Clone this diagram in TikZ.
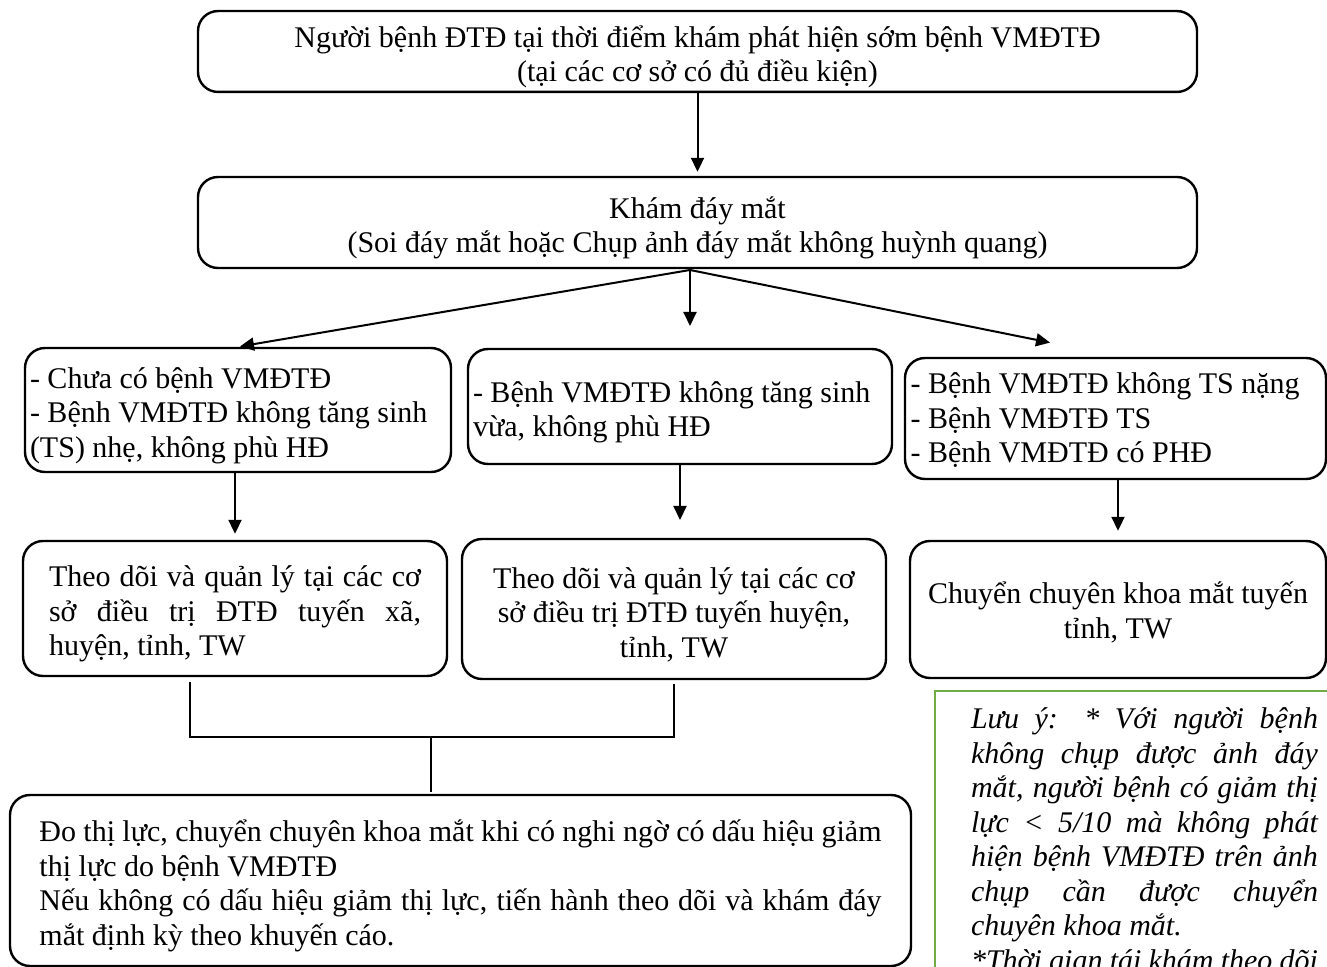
\documentclass[tikz,border=0pt]{standalone}
\usepackage{fontspec}
\setmainfont{Liberation Serif}
\usepackage{tikz}
\usetikzlibrary{positioning, arrows.meta, calc}
\definecolor{notegreen}{RGB}{112,173,71}

% one line spread to a full width
\newcommand{\fillline}[2]{\makebox[#1][s]{\spaceskip=0pt\xspaceskip=0pt\relax#2}}

\tikzset{
	every node/.append style={execute at begin node={\spaceskip=\fontdimen2\font\xspaceskip=\fontdimen2\font\relax}},
	box/.style={draw, line width=1.2pt, rounded corners=10pt, inner sep=2pt, text height=16pt,
		font=\fontsize{15pt}{17.25pt}\selectfont},
	note/.style={draw=notegreen, line width=1pt, inner xsep=18pt, inner ysep=8.5pt,
		text width=173.5pt, align=left, font=\fontsize{15pt}{17.25pt}\selectfont\itshape}
}

\begin{document}
\begin{tikzpicture}[x=0.5pt, y=-0.5pt, >={Triangle[length=7pt,width=6.5pt]}, line width=1pt, shorten >=1pt]
	\useasboundingbox (0,0) rectangle (1327,967);
	\clip (0,0) rectangle (1327,967);
	
	%Boxes
	\node[box, minimum width=499.5pt, minimum height=38.5pt, text width=490pt, align=center] (patient) at (697.5,51.5) {Người bệnh ĐTĐ tại thời điểm khám phát hiện sớm bệnh VMĐTĐ\\(tại các cơ sở có đủ điều kiện)};
	\node[box, minimum width=499.5pt, minimum height=45.5pt, text width=490pt, align=center] (fundus) at (697.5,222.5) {Khám đáy mắt\\(Soi đáy mắt hoặc Chụp ảnh đáy mắt không huỳnh quang)};
	
	\node[box, minimum width=213pt, minimum height=62pt, text width=208pt, align=left] (mild) at (238,410) {- Chưa có bệnh VMĐTĐ\\- Bệnh VMĐTĐ không tăng sinh\\(TS) nhẹ, không phù HĐ};
	\node[box, minimum width=212pt, minimum height=57.5pt, text width=207pt, align=left] (moderate) at (680,406.5) {- Bệnh VMĐTĐ không tăng sinh\\vừa, không phù HĐ};
	\node[box, minimum width=210.5pt, minimum height=60.5pt, text width=205pt, text height=12pt, align=left] (severe) at (1115.5,418.5) {- Bệnh VMĐTĐ không TS nặng\\- Bệnh VMĐTĐ TS\\- Bệnh VMĐTĐ có PHĐ};
	
	\node[box, minimum width=212pt, minimum height=67.5pt, text width=186pt, align=left] (follow_low) at (235,608.5) {\fillline{186pt}{Theo dõi và quản lý tại các cơ}\\\fillline{186pt}{sở điều trị ĐTĐ tuyến xã,}\\huyện, tỉnh, TW};
	\node[box, minimum width=212pt, minimum height=70pt, text width=200pt, align=center] (follow_mid) at (674,609) {Theo dõi và quản lý tại các cơ\\sở điều trị ĐTĐ tuyến huyện,\\tỉnh, TW};
	\node[box, minimum width=208pt, minimum height=68.5pt, text width=200pt, text height=14pt, align=center] (refer) at (1118,609.5) {Chuyển chuyên khoa mắt tuyến\\tỉnh, TW};
	
	\node[box, minimum width=450.5pt, minimum height=85.5pt, text width=421pt, align=left] (vision) at (460.5,880.5) {\fillline{421pt}{Đo thị lực, chuyển chuyên khoa mắt khi có nghi ngờ có dấu hiệu giảm}\\thị lực do bệnh VMĐTĐ\\\fillline{421pt}{Nếu không có dấu hiệu giảm thị lực, tiến hành theo dõi và khám đáy}\\mắt định kỳ theo khuyến cáo.};
	
	\node[note, anchor=north west] (remark) at (934,690) {\fillline{173.5pt}{Lưu ý: * Với người bệnh}\\\fillline{173.5pt}{không chụp được ảnh đáy}\\\fillline{173.5pt}{mắt, người bệnh có giảm thị}\\\fillline{173.5pt}{lực < 5/10 mà không phát}\\\fillline{173.5pt}{hiện bệnh VMĐTĐ trên ảnh}\\\fillline{173.5pt}{chụp cần được chuyển}\\chuyên khoa mắt.\\\fillline{173.5pt}{*Thời gian tái khám theo dõi}};
	
	%Free ends
	\coordinate (split) at (690,270);
	\coordinate (mid_end) at (690,328);
	\coordinate (right_end) at (1052,343);
	\coordinate (mid_gap) at (680,522);
	\coordinate (merge) at (431,737);
	
	%Arrows
	\path[->] 
	(patient) edge [shorten >=2pt] (fundus)
	(split) edge (mild.north)
	edge (mid_end)
	edge (right_end)
	(mild.south -| follow_low.north) edge [shorten >=3pt] (follow_low.north)
	(moderate.south) edge (mid_gap)
	(severe.south -| refer.north) edge [shorten >=4.5pt] (refer.north);
	
	%Joining lines
	\draw ([xshift=-22.5pt,yshift=-2.5pt]follow_low.south) |- (merge) -| ([yshift=-1pt]follow_mid.south);
	\draw (merge) -- (merge |- vision.north);
	
\end{tikzpicture}
\end{document}
